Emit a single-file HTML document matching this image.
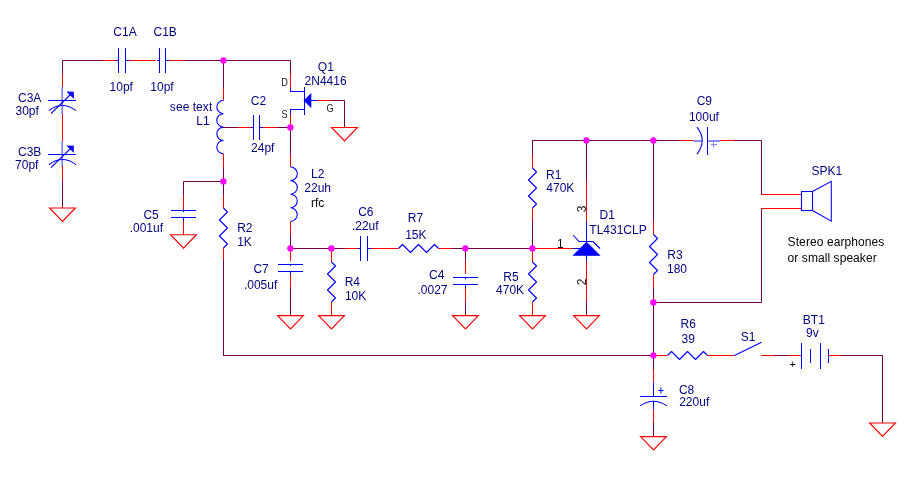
<!DOCTYPE html>
<html><head><meta charset="utf-8"><style>
html,body{margin:0;padding:0;background:#fff;}
svg{display:block;}
text{font-family:"Liberation Sans",sans-serif;}
.t{will-change:transform;}
</style></head><body>
<svg width="916" height="486" viewBox="0 0 916 486">
<rect width="916" height="486" fill="#fff"/>
<polyline points="62.5,74 62.5,60.5 103,60.5" fill="none" stroke="#740044" stroke-width="1" stroke-linejoin="miter"/>
<line x1="62.5" y1="74" x2="62.5" y2="88" stroke="#ff0000" stroke-width="1"/>
<line x1="62.5" y1="114" x2="62.5" y2="141" stroke="#ff0000" stroke-width="1"/>
<line x1="62.2" y1="87" x2="62.2" y2="114" stroke="#8080ff" stroke-width="1.7"/>
<line x1="62.2" y1="141" x2="62.2" y2="167" stroke="#8080ff" stroke-width="1.7"/>
<line x1="62.5" y1="166" x2="62.5" y2="181" stroke="#ff0000" stroke-width="1"/>
<line x1="62.5" y1="181" x2="62.5" y2="208" stroke="#740044" stroke-width="1"/>
<line x1="48" y1="100.5" x2="76" y2="100.5" stroke="#0000ff" stroke-width="1"/>
<path d="M48.8,110.6 Q62.5,100.4 76,110.6" fill="none" stroke="#0000ff" stroke-width="1.1"/>
<line x1="51" y1="113.6" x2="71" y2="94" stroke="#0000ff" stroke-width="1.1"/>
<polygon points="67,91.9 73.5,91.9 73.5,98.3" fill="#0000ff" stroke="#0000ff" stroke-width="0.6"/>
<line x1="48" y1="154.5" x2="76" y2="154.5" stroke="#0000ff" stroke-width="1"/>
<path d="M48.8,164.6 Q62.5,154.4 76,164.6" fill="none" stroke="#0000ff" stroke-width="1.1"/>
<line x1="51" y1="167.6" x2="71" y2="148" stroke="#0000ff" stroke-width="1.1"/>
<polygon points="67,145.9 73.5,145.9 73.5,152.3" fill="#0000ff" stroke="#0000ff" stroke-width="0.6"/>
<polygon points="49.6,208 75.4,208 62.5,221.4" fill="none" stroke="#ff0000" stroke-width="1.15"/>
<line x1="103" y1="60.5" x2="117" y2="60.5" stroke="#ff0000" stroke-width="1"/>
<line x1="118.5" y1="48" x2="118.5" y2="73" stroke="#0000ff" stroke-width="1"/>
<line x1="125.5" y1="48" x2="125.5" y2="73" stroke="#0000ff" stroke-width="1"/>
<line x1="116" y1="60.5" x2="118" y2="60.5" stroke="#0000ff" stroke-width="1"/>
<line x1="126" y1="60.5" x2="129" y2="60.5" stroke="#0000ff" stroke-width="1"/>
<line x1="129" y1="60.5" x2="156" y2="60.5" stroke="#ff0000" stroke-width="1"/>
<line x1="159.5" y1="48" x2="159.5" y2="73" stroke="#0000ff" stroke-width="1"/>
<line x1="165.5" y1="48" x2="165.5" y2="73" stroke="#0000ff" stroke-width="1"/>
<line x1="157" y1="60.5" x2="159" y2="60.5" stroke="#0000ff" stroke-width="1"/>
<line x1="166" y1="60.5" x2="169" y2="60.5" stroke="#0000ff" stroke-width="1"/>
<line x1="169" y1="60.5" x2="183" y2="60.5" stroke="#ff0000" stroke-width="1"/>
<polyline points="183,60.5 290.5,60.5 290.5,74" fill="none" stroke="#740044" stroke-width="1" stroke-linejoin="miter"/>
<line x1="223.5" y1="60" x2="223.5" y2="88" stroke="#740044" stroke-width="1"/>
<line x1="223.5" y1="88" x2="223.5" y2="100.3" stroke="#ff0000" stroke-width="1"/>
<path d="M223.5,100.3 A6.7,6.7 0 0 0 223.5,113.7 A6.7,6.7 0 0 0 223.5,127.1 A6.7,6.7 0 0 0 223.5,140.5 A6.7,6.7 0 0 0 223.5,153.9" fill="none" stroke="#0000ff" stroke-width="1.1"/>
<line x1="223.5" y1="153.9" x2="223.5" y2="167" stroke="#ff0000" stroke-width="1"/>
<line x1="223.5" y1="167" x2="223.5" y2="195" stroke="#740044" stroke-width="1"/>
<line x1="223.5" y1="195" x2="223.5" y2="208" stroke="#ff0000" stroke-width="1"/>
<polyline points="223.5,208 227.5,212 219.5,220 227.5,228 219.5,236 227.5,244 223.5,248" fill="none" stroke="#0000ff" stroke-width="1.1" stroke-linejoin="round"/>
<line x1="223.5" y1="248" x2="223.5" y2="260" stroke="#ff0000" stroke-width="1"/>
<line x1="223.5" y1="260" x2="223.5" y2="355" stroke="#740044" stroke-width="1"/>
<polyline points="223.5,181.5 183.5,181.5 183.5,195" fill="none" stroke="#740044" stroke-width="1" stroke-linejoin="miter"/>
<line x1="183.5" y1="195" x2="183.5" y2="210" stroke="#ff0000" stroke-width="1"/>
<line x1="171" y1="210.5" x2="196" y2="210.5" stroke="#0000ff" stroke-width="1"/>
<line x1="171" y1="217.5" x2="196" y2="217.5" stroke="#0000ff" stroke-width="1"/>
<line x1="183.5" y1="210" x2="183.5" y2="212" stroke="#0000ff" stroke-width="1"/>
<line x1="183.5" y1="218" x2="183.5" y2="221" stroke="#0000ff" stroke-width="1"/>
<line x1="183.5" y1="221" x2="183.5" y2="234.7" stroke="#ff0000" stroke-width="1"/>
<polygon points="170.6,234.7 196.4,234.7 183.5,248.1" fill="none" stroke="#ff0000" stroke-width="1.15"/>
<line x1="223" y1="127.5" x2="238" y2="127.5" stroke="#740044" stroke-width="1"/>
<line x1="238" y1="127.5" x2="251" y2="127.5" stroke="#ff0000" stroke-width="1"/>
<line x1="253.5" y1="115" x2="253.5" y2="140" stroke="#0000ff" stroke-width="1"/>
<line x1="259.5" y1="115" x2="259.5" y2="140" stroke="#0000ff" stroke-width="1"/>
<line x1="251" y1="127.5" x2="253" y2="127.5" stroke="#0000ff" stroke-width="1"/>
<line x1="260" y1="127.5" x2="263" y2="127.5" stroke="#0000ff" stroke-width="1"/>
<line x1="263" y1="127.5" x2="277" y2="127.5" stroke="#ff0000" stroke-width="1"/>
<line x1="277" y1="127.5" x2="290" y2="127.5" stroke="#740044" stroke-width="1"/>
<line x1="290.5" y1="74" x2="290.5" y2="88" stroke="#ff0000" stroke-width="1"/>
<line x1="290.5" y1="88" x2="290.5" y2="92" stroke="#0000ff" stroke-width="1"/>
<line x1="290" y1="91.5" x2="304" y2="91.5" stroke="#0000ff" stroke-width="1"/>
<line x1="304.5" y1="87" x2="304.5" y2="115" stroke="#0000ff" stroke-width="1"/>
<line x1="290" y1="109.5" x2="304" y2="109.5" stroke="#0000ff" stroke-width="1"/>
<line x1="290.5" y1="109" x2="290.5" y2="114" stroke="#0000ff" stroke-width="1"/>
<line x1="290.5" y1="114" x2="290.5" y2="127" stroke="#ff0000" stroke-width="1"/>
<polygon points="304,100.5 311,93.5 311,107.5" fill="#0000ff" stroke="#0000ff" stroke-width="0.6"/>
<line x1="311" y1="100.5" x2="317" y2="100.5" stroke="#0000ff" stroke-width="1"/>
<line x1="317" y1="100.5" x2="331" y2="100.5" stroke="#ff0000" stroke-width="1"/>
<polyline points="331,100.5 344.5,100.5 344.5,127.5" fill="none" stroke="#740044" stroke-width="1" stroke-linejoin="miter"/>
<polygon points="331.6,127.5 357.4,127.5 344.5,140.9" fill="none" stroke="#ff0000" stroke-width="1.15"/>
<line x1="290.5" y1="127" x2="290.5" y2="155" stroke="#740044" stroke-width="1"/>
<line x1="290.5" y1="155" x2="290.5" y2="167" stroke="#ff0000" stroke-width="1"/>
<path d="M290.5,167 A6.8,6.8 0 0 1 290.5,180.6 A6.8,6.8 0 0 1 290.5,194.2 A6.8,6.8 0 0 1 290.5,207.8 A6.8,6.8 0 0 1 290.5,221.4" fill="none" stroke="#0000ff" stroke-width="1.1"/>
<line x1="290.5" y1="221.4" x2="290.5" y2="234" stroke="#ff0000" stroke-width="1"/>
<line x1="290.5" y1="234" x2="290.5" y2="248" stroke="#740044" stroke-width="1"/>
<line x1="290.5" y1="248" x2="290.5" y2="261" stroke="#ff0000" stroke-width="1"/>
<line x1="278" y1="264.5" x2="303" y2="264.5" stroke="#0000ff" stroke-width="1"/>
<line x1="278" y1="271.5" x2="303" y2="271.5" stroke="#0000ff" stroke-width="1"/>
<line x1="290.5" y1="264" x2="290.5" y2="266" stroke="#0000ff" stroke-width="1"/>
<line x1="290.5" y1="272" x2="290.5" y2="275" stroke="#0000ff" stroke-width="1"/>
<line x1="290.5" y1="275" x2="290.5" y2="288" stroke="#ff0000" stroke-width="1"/>
<line x1="290.5" y1="288" x2="290.5" y2="315.6" stroke="#740044" stroke-width="1"/>
<polygon points="277.6,315.6 303.4,315.6 290.5,329.0" fill="none" stroke="#ff0000" stroke-width="1.15"/>
<line x1="290" y1="248.5" x2="345" y2="248.5" stroke="#740044" stroke-width="1"/>
<line x1="331.5" y1="248" x2="331.5" y2="262" stroke="#ff0000" stroke-width="1"/>
<polyline points="331.5,262 335.5,266 327.5,274 335.5,282 327.5,290 335.5,298 331.5,302" fill="none" stroke="#0000ff" stroke-width="1.1" stroke-linejoin="round"/>
<line x1="331.5" y1="302" x2="331.5" y2="315.6" stroke="#ff0000" stroke-width="1"/>
<polygon points="318.6,315.6 344.4,315.6 331.5,329.0" fill="none" stroke="#ff0000" stroke-width="1.15"/>
<line x1="345" y1="248.5" x2="358" y2="248.5" stroke="#ff0000" stroke-width="1"/>
<line x1="360.5" y1="236" x2="360.5" y2="261" stroke="#0000ff" stroke-width="1"/>
<line x1="367.5" y1="236" x2="367.5" y2="261" stroke="#0000ff" stroke-width="1"/>
<line x1="358" y1="248.5" x2="360" y2="248.5" stroke="#0000ff" stroke-width="1"/>
<line x1="368" y1="248.5" x2="371" y2="248.5" stroke="#0000ff" stroke-width="1"/>
<line x1="371" y1="248.5" x2="398.5" y2="248.5" stroke="#ff0000" stroke-width="1"/>
<polyline points="398.5,248.5 402.5,244.5 410.5,252.5 418.5,244.5 426.5,252.5 434.5,244.5 438.5,248.5" fill="none" stroke="#0000ff" stroke-width="1.1" stroke-linejoin="round"/>
<line x1="438.5" y1="248.5" x2="451" y2="248.5" stroke="#ff0000" stroke-width="1"/>
<line x1="451" y1="248.5" x2="532" y2="248.5" stroke="#740044" stroke-width="1"/>
<line x1="465.5" y1="248" x2="465.5" y2="261" stroke="#740044" stroke-width="1"/>
<line x1="465.5" y1="261" x2="465.5" y2="274" stroke="#ff0000" stroke-width="1"/>
<line x1="453" y1="277.5" x2="478" y2="277.5" stroke="#0000ff" stroke-width="1"/>
<line x1="453" y1="284.5" x2="478" y2="284.5" stroke="#0000ff" stroke-width="1"/>
<line x1="465.5" y1="277" x2="465.5" y2="279" stroke="#0000ff" stroke-width="1"/>
<line x1="465.5" y1="285" x2="465.5" y2="288" stroke="#0000ff" stroke-width="1"/>
<line x1="465.5" y1="288" x2="465.5" y2="302" stroke="#ff0000" stroke-width="1"/>
<line x1="465.5" y1="302" x2="465.5" y2="315.6" stroke="#740044" stroke-width="1"/>
<polygon points="452.6,315.6 478.4,315.6 465.5,329.0" fill="none" stroke="#ff0000" stroke-width="1.15"/>
<polyline points="532.5,155 532.5,140.5 586.5,140.5" fill="none" stroke="#740044" stroke-width="1" stroke-linejoin="miter"/>
<line x1="532.5" y1="155" x2="532.5" y2="168" stroke="#ff0000" stroke-width="1"/>
<polyline points="532.5,168 536.5,172 528.5,180 536.5,188 528.5,196 536.5,204 532.5,208" fill="none" stroke="#0000ff" stroke-width="1.1" stroke-linejoin="round"/>
<line x1="532.5" y1="208" x2="532.5" y2="221" stroke="#ff0000" stroke-width="1"/>
<line x1="532.5" y1="221" x2="532.5" y2="248" stroke="#740044" stroke-width="1"/>
<line x1="532.5" y1="248" x2="532.5" y2="262" stroke="#ff0000" stroke-width="1"/>
<polyline points="532.5,262 536.5,266 528.5,274 536.5,282 528.5,290 536.5,298 532.5,302" fill="none" stroke="#0000ff" stroke-width="1.1" stroke-linejoin="round"/>
<line x1="532.5" y1="302" x2="532.5" y2="315.6" stroke="#ff0000" stroke-width="1"/>
<polygon points="519.6,315.6 545.4,315.6 532.5,329.0" fill="none" stroke="#ff0000" stroke-width="1.15"/>
<line x1="532" y1="248.5" x2="573" y2="248.5" stroke="#ff0000" stroke-width="1"/>
<line x1="573" y1="248.5" x2="580" y2="248.5" stroke="#0000ff" stroke-width="1"/>
<line x1="586.5" y1="140" x2="586.5" y2="182" stroke="#740044" stroke-width="1"/>
<line x1="586.5" y1="182" x2="586.5" y2="222" stroke="#ff0000" stroke-width="1"/>
<line x1="586.5" y1="222" x2="586.5" y2="242" stroke="#0000ff" stroke-width="1"/>
<polygon points="586.5,242 573,255.5 600,255.5" fill="#0000ff" stroke="#0000ff" stroke-width="0.6"/>
<polyline points="573,235 579,241.5 593,241.5 600,248.5" fill="none" stroke="#0000ff" stroke-width="1.1" stroke-linejoin="miter"/>
<line x1="586.5" y1="255" x2="586.5" y2="261" stroke="#0000ff" stroke-width="1"/>
<line x1="586.5" y1="261" x2="586.5" y2="301" stroke="#ff0000" stroke-width="1"/>
<line x1="586.5" y1="301" x2="586.5" y2="315.6" stroke="#740044" stroke-width="1"/>
<polygon points="573.6,315.6 599.4,315.6 586.5,329.0" fill="none" stroke="#ff0000" stroke-width="1.15"/>
<line x1="586" y1="140.5" x2="681" y2="140.5" stroke="#740044" stroke-width="1"/>
<line x1="681" y1="140.5" x2="694" y2="140.5" stroke="#ff0000" stroke-width="1"/>
<line x1="694" y1="141" x2="702" y2="141" stroke="#8080ff" stroke-width="1.8"/>
<path d="M697,127.2 Q707.4,140.5 697,154.2" fill="none" stroke="#0000ff" stroke-width="1.1"/>
<line x1="707.5" y1="127" x2="707.5" y2="155" stroke="#0000ff" stroke-width="1"/>
<line x1="708" y1="141" x2="720" y2="141" stroke="#8080ff" stroke-width="1.8"/>
<line x1="720" y1="140.5" x2="734" y2="140.5" stroke="#ff0000" stroke-width="1"/>
<polyline points="734,140.5 761.5,140.5 761.5,194" fill="none" stroke="#740044" stroke-width="1" stroke-linejoin="miter"/>
<line x1="711" y1="144.5" x2="717" y2="144.5" stroke="#8080ff" stroke-width="1"/>
<line x1="713.5" y1="142" x2="713.5" y2="147" stroke="#8080ff" stroke-width="1"/>
<line x1="653.5" y1="140" x2="653.5" y2="222" stroke="#740044" stroke-width="1"/>
<line x1="653.5" y1="222" x2="653.5" y2="234.5" stroke="#ff0000" stroke-width="1"/>
<polyline points="653.5,234.5 657.5,238.5 649.5,246.5 657.5,254.5 649.5,262.5 657.5,270.5 653.5,274.5" fill="none" stroke="#0000ff" stroke-width="1.1" stroke-linejoin="round"/>
<line x1="653.5" y1="274.5" x2="653.5" y2="288" stroke="#ff0000" stroke-width="1"/>
<line x1="653.5" y1="288" x2="653.5" y2="355" stroke="#740044" stroke-width="1"/>
<polyline points="653.5,302.5 761.5,302.5 761.5,209" fill="none" stroke="#740044" stroke-width="1" stroke-linejoin="miter"/>
<line x1="761" y1="194.5" x2="801" y2="194.5" stroke="#ff0000" stroke-width="1"/>
<line x1="761" y1="208.5" x2="801" y2="208.5" stroke="#ff0000" stroke-width="1"/>
<rect x="801.5" y="191.5" width="11" height="19" fill="none" stroke="#0000ff" stroke-width="1.1"/>
<polyline points="812.5,191.5 831.3,181.3 831.3,221.2 812.5,210.5" fill="none" stroke="#0000ff" stroke-width="1.05" stroke-linejoin="miter"/>
<line x1="223" y1="355.5" x2="653" y2="355.5" stroke="#740044" stroke-width="1"/>
<line x1="653" y1="355.5" x2="667.5" y2="355.5" stroke="#ff0000" stroke-width="1"/>
<polyline points="667.5,355.5 671.5,351.5 679.5,359.5 687.5,351.5 695.5,359.5 703.5,351.5 707.5,355.5" fill="none" stroke="#0000ff" stroke-width="1.1" stroke-linejoin="round"/>
<line x1="707.5" y1="355.5" x2="734.5" y2="355.5" stroke="#ff0000" stroke-width="1"/>
<line x1="734.5" y1="355.5" x2="761.5" y2="342.2" stroke="#0000ff" stroke-width="1.1"/>
<line x1="761" y1="355.5" x2="774" y2="355.5" stroke="#ff0000" stroke-width="1"/>
<line x1="774" y1="355.5" x2="789" y2="355.5" stroke="#740044" stroke-width="1"/>
<line x1="789" y1="355.5" x2="801" y2="355.5" stroke="#ff0000" stroke-width="1"/>
<line x1="801.5" y1="343" x2="801.5" y2="369" stroke="#0000ff" stroke-width="1"/>
<line x1="810.5" y1="349" x2="810.5" y2="363" stroke="#0000ff" stroke-width="1"/>
<line x1="820.5" y1="343" x2="820.5" y2="369" stroke="#0000ff" stroke-width="1"/>
<line x1="828.5" y1="349" x2="828.5" y2="363" stroke="#0000ff" stroke-width="1"/>
<line x1="828" y1="355.5" x2="841" y2="355.5" stroke="#ff0000" stroke-width="1"/>
<polyline points="841,355.5 882.5,355.5 882.5,423" fill="none" stroke="#740044" stroke-width="1" stroke-linejoin="miter"/>
<polygon points="869.6,423 895.4,423 882.5,436.4" fill="none" stroke="#ff0000" stroke-width="1.15"/>
<line x1="653.5" y1="355" x2="653.5" y2="370" stroke="#740044" stroke-width="1"/>
<line x1="653.5" y1="370" x2="653.5" y2="383" stroke="#ff0000" stroke-width="1"/>
<line x1="653.5" y1="383" x2="653.5" y2="396" stroke="#0000ff" stroke-width="1"/>
<line x1="640" y1="396.5" x2="667" y2="396.5" stroke="#0000ff" stroke-width="1"/>
<path d="M640,405.9 Q653.5,396.6 667,405.9" fill="none" stroke="#0000ff" stroke-width="1.1"/>
<line x1="653.5" y1="401" x2="653.5" y2="409" stroke="#0000ff" stroke-width="1"/>
<line x1="653.5" y1="409" x2="653.5" y2="422" stroke="#ff0000" stroke-width="1"/>
<line x1="653.5" y1="422" x2="653.5" y2="436.6" stroke="#740044" stroke-width="1"/>
<polygon points="640.6,436.6 666.4,436.6 653.5,450.0" fill="none" stroke="#ff0000" stroke-width="1.15"/>
<line x1="658.3" y1="390.5" x2="663.5" y2="390.5" stroke="#0000ff" stroke-width="1"/>
<line x1="660.9" y1="387.5" x2="660.9" y2="393.5" stroke="#0000ff" stroke-width="1"/>
<circle cx="223.4" cy="60.45" r="3.15" fill="#ff00ff"/>
<circle cx="223.4" cy="181.45" r="3.15" fill="#ff00ff"/>
<circle cx="290.4" cy="127.45" r="3.15" fill="#ff00ff"/>
<circle cx="290.4" cy="248.45" r="3.15" fill="#ff00ff"/>
<circle cx="331.4" cy="248.45" r="3.15" fill="#ff00ff"/>
<circle cx="465.4" cy="248.45" r="3.15" fill="#ff00ff"/>
<circle cx="532.4" cy="248.45" r="3.15" fill="#ff00ff"/>
<circle cx="586.4" cy="140.45" r="3.15" fill="#ff00ff"/>
<circle cx="653.4" cy="140.45" r="3.15" fill="#ff00ff"/>
<circle cx="653.4" cy="302.45" r="3.15" fill="#ff00ff"/>
<circle cx="653.4" cy="355.45" r="3.15" fill="#ff00ff"/>
<g class="t" style="opacity:0.999">
<text x="113.3" y="36" fill="#000080" font-size="12" >C1A</text>
<text x="109.6" y="91" fill="#000080" font-size="12" >10pf</text>
<text x="153.5" y="36" fill="#000080" font-size="12" >C1B</text>
<text x="150.3" y="91" fill="#000080" font-size="12" >10pf</text>
<text x="18.0" y="102" fill="#000080" font-size="12" >C3A</text>
<text x="15.5" y="115.3" fill="#000080" font-size="12" >30pf</text>
<text x="18.0" y="156" fill="#000080" font-size="12" >C3B</text>
<text x="15.1" y="168.8" fill="#000080" font-size="12" >70pf</text>
<text x="317.8" y="71" fill="#000080" font-size="12" >Q1</text>
<text x="304.6" y="84.5" fill="#000080" font-size="12" >2N4416</text>
<text x="250.8" y="105" fill="#000080" font-size="12" >C2</text>
<text x="251.1" y="151.8" fill="#000080" font-size="12" >24pf</text>
<text x="311.0" y="177.5" fill="#000080" font-size="12" >L2</text>
<text x="304.3" y="192" fill="#000080" font-size="12" >22uh</text>
<text x="143.4" y="218.6" fill="#000080" font-size="12" >C5</text>
<text x="129.7" y="231.5" fill="#000080" font-size="12" >.001uf</text>
<text x="237.2" y="232.2" fill="#000080" font-size="12" >R2</text>
<text x="237.2" y="245.8" fill="#000080" font-size="12" >1K</text>
<text x="253.4" y="273" fill="#000080" font-size="12" >C7</text>
<text x="243.9" y="288.9" fill="#000080" font-size="12" >.005uf</text>
<text x="344.7" y="285.7" fill="#000080" font-size="12" >R4</text>
<text x="344.9" y="300" fill="#000080" font-size="12" >10K</text>
<text x="358.2" y="215.6" fill="#000080" font-size="12" >C6</text>
<text x="351.9" y="229.6" fill="#000080" font-size="12" >.22uf</text>
<text x="407.8" y="221.7" fill="#000080" font-size="12" >R7</text>
<text x="405.2" y="238.6" fill="#000080" font-size="12" >15K</text>
<text x="429.0" y="279" fill="#000080" font-size="12" >C4</text>
<text x="417.5" y="293.6" fill="#000080" font-size="12" >.0027</text>
<text x="546.1" y="178.8" fill="#000080" font-size="12" >R1</text>
<text x="546.3" y="191.6" fill="#000080" font-size="12" >470K</text>
<text x="503.3" y="280.7" fill="#000080" font-size="12" >R5</text>
<text x="496.1" y="293.6" fill="#000080" font-size="12" >470K</text>
<text x="599.6" y="218.8" fill="#000080" font-size="12" >D1</text>
<text x="589.3" y="233.5" fill="#000080" font-size="12" >TL431CLP</text>
<text x="667.3" y="258.5" fill="#000080" font-size="12" >R3</text>
<text x="667.0" y="272.8" fill="#000080" font-size="12" >180</text>
<text x="696.7" y="104.5" fill="#000080" font-size="12" >C9</text>
<text x="688.9" y="120.5" fill="#000080" font-size="12" >100uf</text>
<text x="811.4" y="174.7" fill="#000080" font-size="12" >SPK1</text>
<text x="680.5" y="328" fill="#000080" font-size="12" >R6</text>
<text x="681.5" y="342.8" fill="#000080" font-size="12" >39</text>
<text x="740.8" y="340.5" fill="#000080" font-size="12" >S1</text>
<text x="802.8" y="323.7" fill="#000080" font-size="12" >BT1</text>
<text x="806.0" y="336.8" fill="#000080" font-size="12" >9v</text>
<text x="678.9" y="393.6" fill="#000080" font-size="12" >C8</text>
<text x="679.2" y="405.8" fill="#000080" font-size="12" >220uf</text>
<text x="212.3" y="110.8" fill="#000080" font-size="12" text-anchor="end" letter-spacing="0.05">see text</text>
<text x="209.7" y="124.8" fill="#000080" font-size="12" text-anchor="end">L1</text>
<text x="311" y="206.6" fill="#000000" font-size="12" >rfc</text>
<text x="787.6" y="245.8" fill="#000000" font-size="12" letter-spacing="0.09">Stereo earphones</text>
<text x="787.6" y="261.5" fill="#000000" font-size="12" letter-spacing="0.07">or small speaker</text>
<text x="0" y="0" fill="#202020" font-size="10.5" transform="translate(281.3,85.7) scale(0.87,1)">D</text>
<text x="0" y="0" fill="#202020" font-size="10.5" transform="translate(281.5,117.8) scale(0.87,1)">S</text>
<text x="0" y="0" fill="#202020" font-size="10.5" transform="translate(326.6,111.6) scale(0.87,1)">G</text>
<text x="557" y="248.2" fill="#101010" font-size="12" >1</text>
<text x="0" y="0" fill="#202020" font-size="12" transform="translate(586.3,212.2) rotate(-90)">3</text>
<text x="0" y="0" fill="#202020" font-size="12" transform="translate(586.3,285.2) rotate(-90)">2</text>
<text x="789.5" y="368" fill="#000000" font-size="11" >+</text>
</g>
</svg></body></html>
